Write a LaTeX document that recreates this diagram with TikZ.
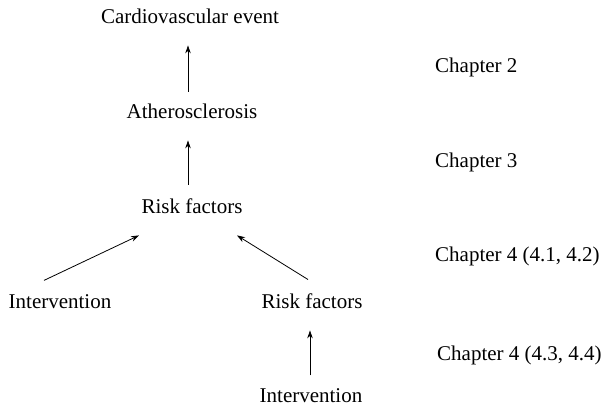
\documentclass[tikz,border=0pt]{standalone}
\usepackage{fontspec}
\setmainfont{Liberation Serif}
\usetikzlibrary{arrows.meta}
\begin{document}
\begin{tikzpicture}[x=1pt,y=-1pt,
  lbl/.style={inner sep=0pt,anchor=base,font=\fontsize{21}{25}\selectfont},
  chap/.style={inner sep=0pt,anchor=base west,font=\fontsize{21}{25}\selectfont},
  arr/.style={line width=0.8pt,-{Stealth[length=8pt,width=5.5pt]}}]
\useasboundingbox (0,0) rectangle (603,407);
\node[lbl] (cv) at (190,23) {Cardiovascular event};
\node[lbl] (ath) at (192,118) {Atherosclerosis};
\node[lbl] (rf) at (192,213) {Risk factors};
\node[lbl] (int1) at (60,308) {Intervention};
\node[lbl] (rf2) at (312,308) {Risk factors};
\node[lbl] (int2) at (311,402) {Intervention};
\node[chap] (c2) at (435,72) {Chapter 2};
\node[chap] (c3) at (435,167) {Chapter 3};
\node[chap] (c41) at (435,261) {Chapter 4 (4.1, 4.2)};
\node[chap] (c43) at (437,360) {Chapter 4 (4.3, 4.4)};
\draw[arr] ([shift={(-4,-11.5)}]ath.north) -- ([shift={(-2,22)}]cv.south);
\draw[arr] ([shift={(-4,-13.5)}]rf.north) -- ([shift={(-4,22)}]ath.south);
\draw[arr] ([shift={(-16,-13.5)}]int1.north) -- ([shift={(-53,22)}]rf.south);
\draw[arr] ([shift={(-4,-13.5)}]rf2.north) -- ([shift={(45,22)}]rf.south);
\draw[arr] ([shift={(-1,-12.5)}]int2.north) -- ([shift={(-2,22)}]rf2.south);
\end{tikzpicture}
\end{document}
